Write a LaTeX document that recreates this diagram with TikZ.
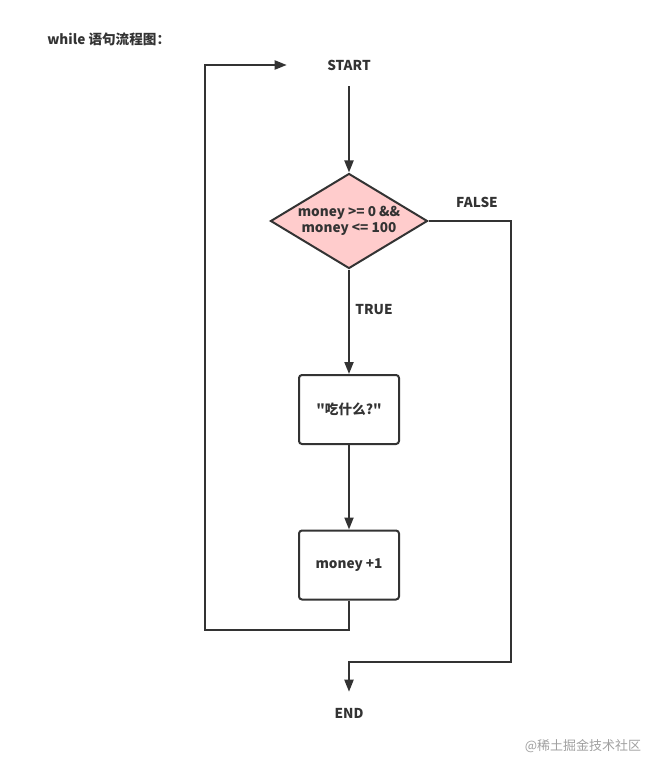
\documentclass[tikz,border=0pt]{standalone}
\usepackage{fontspec}
\setmainfont[Ligatures=TeXOff]{Noto Sans CJK SC}
\usetikzlibrary{shapes.geometric,arrows.meta}
\definecolor{linegray}{HTML}{333333}
\definecolor{condpink}{HTML}{FFCCCC}
\definecolor{markgray}{HTML}{A0A0A0}
\tikzset{%
  flowtext/.style = {font=\bfseries\fontsize{10.2}{12}\selectfont,%
                     text=linegray, align=center},%
  termnode/.style = {flowtext, minimum width=93pt, minimum height=31.5pt},%
  procbox/.style  = {flowtext, shape=rectangle, rounded corners=2.25pt,%
                     draw=linegray, line width=1.5pt,%
                     minimum width=75pt, minimum height=51.75pt},%
  decision/.style = {flowtext, shape=diamond, aspect=1.65, inner sep=0pt,%
                     draw=linegray, line width=1.5pt, fill=condpink,%
                     minimum width=117.75pt, minimum height=71.25pt},%
  flow/.style     = {draw=linegray, line width=1.5pt,%
                     -{Triangle[length=9pt,width=6.75pt]}}%
}
\begin{document}
\begin{tikzpicture}[x=0.75pt, y=-0.75pt]%
	\useasboundingbox (0,0) rectangle (665,774);
	\node [flowtext, anchor=west, inner sep=0pt] (title) at (47,39) {while 语句流程图：};%
	\node [termnode] (start) at (349,65) {START};%
	\node [decision] (cond) at (349,221) {money >= 0 \&\&\\money <= 100};%
	\node [procbox] (eat) at (349,409.5) {"吃什么?"};%
	\node [procbox] (inc) at (349,565) {money +1};%
	\node [termnode] (end) at (349,713) {END};%
	\node [flowtext] (falselabel) at (477,202) {FALSE};%
	\node [flowtext] (truelabel) at (374,310) {TRUE};%
	\coordinate (loopcorner) at (205,630);%
	\coordinate (falsecorner) at (511,662);%
	% main path
	\draw [flow] (start) -- (cond);%
	\draw [flow] (cond) -- (eat);%
	\draw [flow] (eat) -- (inc);%
	% back to start
	\draw [flow] (inc.south) |- (loopcorner) |- (start.west);%
	% leave loop
	\draw [flow] (cond.east) -| (falsecorner) -| (end.north);%
	\node [font=\fontsize{9.75}{12}\selectfont, text=markgray] (mark) at (583,746) {@稀土掘金技术社区};%
\end{tikzpicture}
\end{document}
